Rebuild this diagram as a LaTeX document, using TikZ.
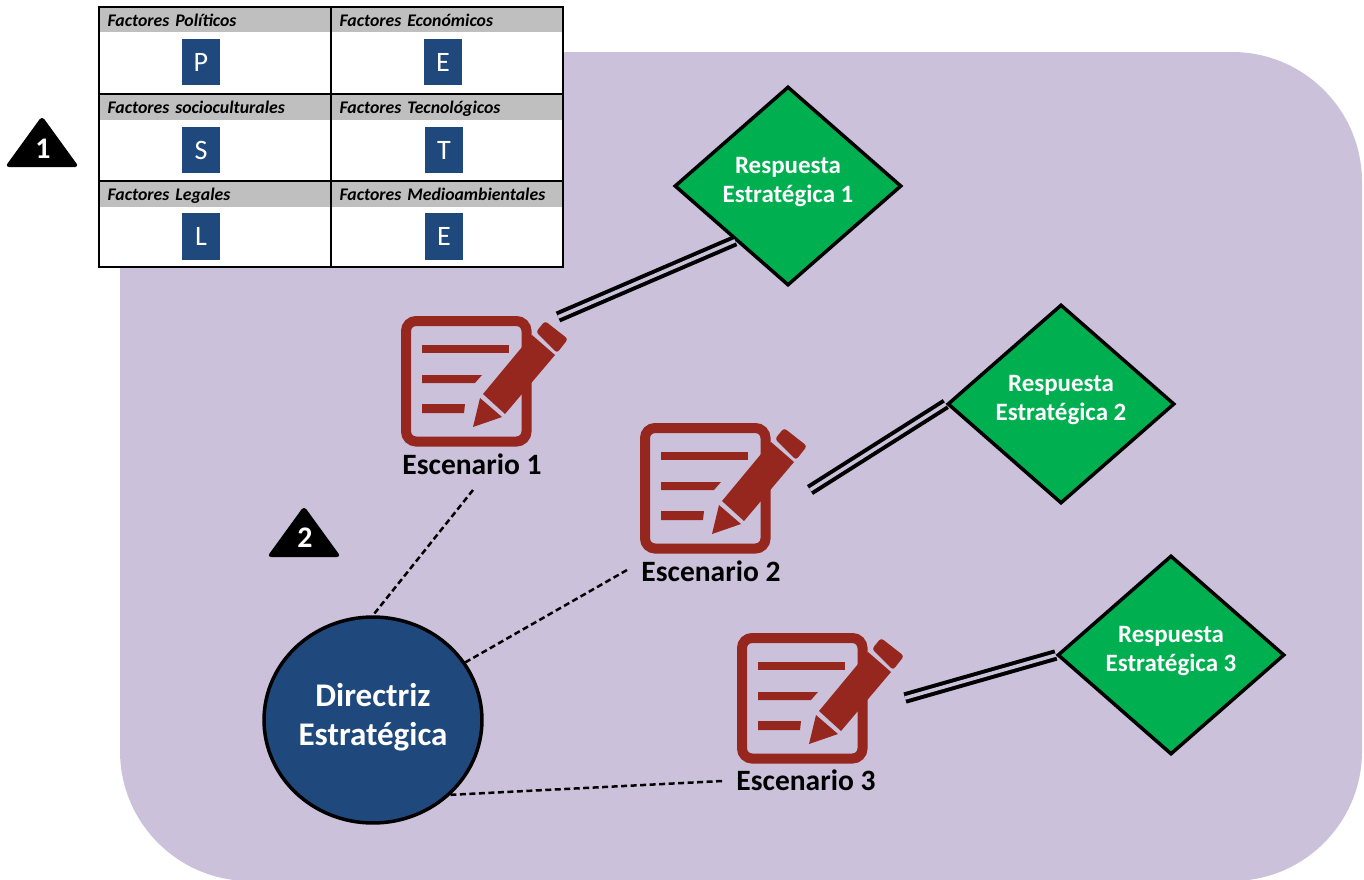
\documentclass[tikz,border=0pt]{standalone}
\usepackage{fontspec}
\setmainfont{Carlito}
\usetikzlibrary{positioning,shapes.geometric}
\definecolor{lilac}{HTML}{CCC1DA}
\definecolor{navy}{HTML}{1F497D}
\definecolor{wine}{HTML}{95271F}
\definecolor{leaf}{HTML}{00B050}
\definecolor{headgray}{HTML}{BFBFBF}
\tikzset{
	cellbox/.style={draw=black,fill=white,line width=0.04cm,minimum width=4.64cm,inner sep=0},
	headbox/.style={fill=headgray,minimum width=4.6cm,minimum height=0.49cm,inner sep=0,text width=4.3cm,text height=0.29cm,text depth=0.04cm,align=left,font=\fontsize{10.1}{11}\bfseries\itshape\selectfont},
	lettbox/.style={fill=navy,text=white,minimum width=0.76cm,minimum height=0.94cm,inner sep=0,font=\fontsize{16}{18}\selectfont},
	respbox/.style={diamond,draw=black,fill=leaf,line width=0.07cm,minimum width=4.54cm,minimum height=3.98cm,aspect=1.14,inner sep=0},
	resptext/.style={text=white,align=center,inner sep=0,font=\fontsize{14.2}{17}\bfseries\selectfont},
	esclabel/.style={inner sep=0,font=\fontsize{16.8}{18}\bfseries\selectfont},
	dlink/.style={line width=0.08cm,double=lilac,double distance=0.07cm},
	dlinea/.style={line width=0.05cm,dash pattern=on 0.12cm off 0.07cm},
	marktext/.style={text=white,inner sep=0,font=\fontsize{17}{18}\bfseries\selectfont},
	marktri/.pic={
		\fill[black,rounded corners=0.08cm] (0,-49) -- (37,2) -- (-37,2) -- cycle;
	},
	escicon/.pic={
		\draw[wine,line width=0.2cm,rounded corners=0.2cm] (5,5) rectangle (125.5,125.5);
		\fill[wine] (21,29) rectangle (108,37);
		\fill[wine] (21,59) -- (81,59) -- (74,67) -- (21,67) -- cycle;
		\fill[wine] (21,88) -- (64,88) -- (63,97) -- (21,97) -- cycle;
		\fill[wine] (82,78) -- (104,98) -- (154,39) -- (131,19) -- cycle;
		\fill[wine] (79,82) -- (101,101) -- (72,111) -- cycle;
		\fill[wine,rounded corners=0.06cm] (135,16) -- (144,5) -- (167,23) -- (156,37) -- cycle;
	}
}
\begin{document}
\begin{tikzpicture}[x=0.02cm,y=-0.02cm]
	\useasboundingbox (0,0) rectangle (1364,879);
	\fill[lilac,rounded corners=2.6cm] (120,52) rectangle (1362,881);
	\node[cellbox,minimum height=1.74cm] (cpol) at (215,50.5) {};
	\node[cellbox,minimum height=1.74cm] (ceco) at (447,50.5) {};
	\node[cellbox,minimum height=1.74cm] (csoc) at (215,137.5) {};
	\node[cellbox,minimum height=1.74cm] (ctec) at (447,137.5) {};
	\node[cellbox,minimum height=1.72cm] (cleg) at (215,224) {};
	\node[cellbox,minimum height=1.72cm] (cmed) at (447,224) {};
	\node[headbox] (hpol) at (215,20) {Factores Políticos};
	\node[headbox] (heco) at (447,20) {Factores Económicos};
	\node[headbox] (hsoc) at (215,107.5) {Factores socioculturales};
	\node[headbox] (htec) at (447,107.5) {Factores Tecnológicos};
	\node[headbox] (hleg) at (215,194.5) {Factores Legales};
	\node[headbox] (hmed) at (447,194.5) {Factores Medioambientales};
	\node[lettbox] (lp) at (201,62) {P};
	\node[lettbox] (le) at (443,62) {E};
	\node[lettbox] (ls) at (201,150) {S};
	\node[lettbox] (lt) at (444,150) {T};
	\node[lettbox] (ll) at (201,236.5) {L};
	\node[lettbox] (lm) at (444,236.5) {E};
	\pic (tri1) at (42,165) {marktri};
	\node[marktext] (num1) at (43,149) {1};
	\pic (tri2) at (304,555) {marktri};
	\node[marktext] (num2) at (305,538) {2};
	\pic (ic1) at (401,316) {escicon};
	\pic (ic2) at (640,423) {escicon};
	\pic (ic3) at (737,633) {escicon};
	\node[esclabel] (esc1) at (472,464) {Escenario 1};
	\node[esclabel] (esc2) at (711,571) {Escenario 2};
	\node[esclabel] (esc3) at (806,780) {Escenario 3};
	\node[ellipse,draw=black,fill=navy,line width=0.07cm,minimum width=4.36cm,minimum height=4.12cm,inner sep=0] (dir) at (373,720) {};
	\node[text=white,align=center,inner sep=0,font=\fontsize{18.8}{22}\bfseries\selectfont] (dirt) at (373,717) {Directriz\\Estratégica};
	\node[respbox] (resp1) at (788,186) {};
	\node[respbox] (resp2) at (1061,404) {};
	\node[respbox] (resp3) at (1171,655) {};
	\node[resptext] (rt1) at (788,182) {Respuesta\\Estratégica 1};
	\node[resptext] (rt2) at (1061,400) {Respuesta\\Estratégica 2};
	\node[resptext] (rt3) at (1171,651) {Respuesta\\Estratégica 3};
	\coordinate (lnk1) at (558,317);
	\coordinate (lnk2) at (810,490);
	\coordinate (lnk3) at (905,698);
	\coordinate (dsh1) at (473,490);
	\coordinate (dsh2) at (627,570);
	\coordinate (dsh3) at (722,781);
	\draw[dlink] (lnk1) -- (resp1.226);
	\draw[dlink] (lnk2) -- (resp2.west);
	\draw[dlink] (lnk3) -- (resp3.west);
	\draw[dlinea] (dsh1) -- (dir.90);
	\draw[dlinea] (dsh2) -- (dir.32);
	\draw[dlinea] (dsh3) -- (dir.-44);
\end{tikzpicture}
\end{document}
